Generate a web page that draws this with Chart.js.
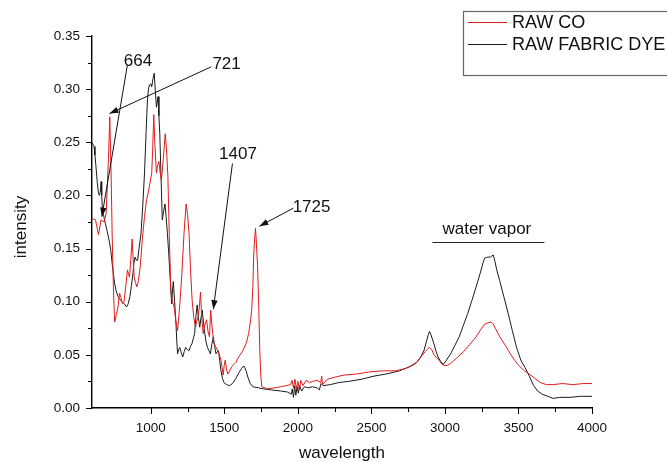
<!DOCTYPE html>
<html>
<head>
<meta charset="utf-8">
<script src="https://cdn.jsdelivr.net/npm/chart.js@4.4.0/dist/chart.umd.min.js"></script>
<style>
  html, body { margin: 0; padding: 0; background: #fff; }
  #wrap { width: 667px; height: 462px; position: relative; }
</style>
</head>
<body>
<div id="wrap"><canvas id="spectrumChart" width="667" height="462"></canvas></div>
<script>
/* ============================================
   Spectrum chart - RAW CO vs RAW FABRIC DYE
   ============================================ */

// RAW CO (red)
const coWavelength = [600, 624, 644, 662, 682, 696, 712, 721, 730, 737, 746, 754, 766, 777, 787, 797, 807, 818, 830, 841, 848, 855, 864, 873, 880, 887, 896, 905, 916, 928, 943, 957, 971, 986, 1006, 1013, 1020, 1027, 1038, 1046, 1055, 1063, 1072, 1085, 1098, 1106, 1116, 1126, 1136, 1147, 1159, 1170, 1182, 1196, 1211, 1226, 1240, 1250, 1260, 1270, 1281, 1292, 1304, 1312, 1321, 1330, 1338, 1346, 1356, 1367, 1379, 1389, 1399, 1407, 1414, 1428, 1440, 1454, 1466, 1477, 1485, 1492, 1499, 1506, 1515, 1524, 1537, 1550, 1565, 1579, 1593, 1607, 1622, 1636, 1651, 1665, 1676, 1686, 1694, 1700, 1706, 1712, 1718, 1726, 1734, 1741, 1748, 1755, 1775, 1795, 1840, 1882, 1920, 1950, 1960, 1970, 1980, 1990, 2000, 2010, 2020, 2035, 2056, 2080, 2100, 2130, 2155, 2162, 2168, 2200, 2250, 2315, 2400, 2489, 2580, 2663, 2730, 2779, 2810, 2837, 2865, 2885, 2895, 2910, 2925, 2938, 2960, 2980, 2996, 3015, 3039, 3080, 3126, 3170, 3212, 3245, 3270, 3290, 3314, 3328, 3343, 3365, 3386, 3415, 3444, 3473, 3502, 3540, 3574, 3610, 3647, 3690, 3734, 3800, 3870, 3940, 4000];
const coIntensity = [0.178, 0.177, 0.163, 0.177, 0.175, 0.183, 0.235, 0.274, 0.220, 0.164, 0.110, 0.081, 0.088, 0.095, 0.108, 0.104, 0.098, 0.100, 0.115, 0.130, 0.126, 0.123, 0.140, 0.159, 0.140, 0.123, 0.118, 0.114, 0.120, 0.133, 0.160, 0.180, 0.196, 0.205, 0.221, 0.245, 0.276, 0.250, 0.221, 0.228, 0.232, 0.222, 0.214, 0.235, 0.258, 0.245, 0.218, 0.160, 0.111, 0.100, 0.095, 0.082, 0.073, 0.095, 0.126, 0.165, 0.192, 0.182, 0.164, 0.130, 0.101, 0.085, 0.076, 0.082, 0.086, 0.095, 0.109, 0.085, 0.070, 0.078, 0.083, 0.072, 0.067, 0.092, 0.080, 0.061, 0.058, 0.054, 0.050, 0.045, 0.038, 0.031, 0.040, 0.045, 0.036, 0.032, 0.035, 0.039, 0.041, 0.043, 0.047, 0.050, 0.053, 0.057, 0.062, 0.070, 0.080, 0.092, 0.115, 0.145, 0.160, 0.169, 0.155, 0.133, 0.095, 0.054, 0.030, 0.020, 0.019, 0.018, 0.019, 0.020, 0.021, 0.022, 0.026, 0.019, 0.027, 0.018, 0.025, 0.017, 0.026, 0.021, 0.026, 0.024, 0.025, 0.026, 0.024, 0.030, 0.022, 0.027, 0.029, 0.031, 0.032, 0.034, 0.035, 0.035, 0.037, 0.040, 0.043, 0.048, 0.053, 0.056, 0.057, 0.055, 0.050, 0.048, 0.045, 0.041, 0.040, 0.040, 0.042, 0.047, 0.053, 0.060, 0.067, 0.074, 0.079, 0.080, 0.081, 0.079, 0.075, 0.069, 0.064, 0.058, 0.051, 0.045, 0.040, 0.035, 0.032, 0.028, 0.024, 0.022, 0.022, 0.023, 0.022, 0.023, 0.023];

// RAW FABRIC DYE (black)
const dyeWavelength = [600, 607, 614, 620, 627, 636, 644, 650, 656, 662, 666, 670, 678, 685, 702, 719, 728, 737, 746, 754, 765, 777, 790, 806, 820, 835, 846, 858, 868, 878, 885, 893, 901, 910, 920, 933, 945, 957, 968, 977, 984, 991, 999, 1006, 1015, 1023, 1030, 1038, 1044, 1049, 1055, 1061, 1070, 1078, 1087, 1096, 1104, 1113, 1122, 1130, 1136, 1142, 1147, 1153, 1162, 1171, 1177, 1182, 1190, 1197, 1207, 1217, 1227, 1237, 1248, 1260, 1270, 1281, 1290, 1298, 1306, 1315, 1324, 1333, 1341, 1350, 1358, 1367, 1376, 1385, 1395, 1405, 1415, 1425, 1434, 1443, 1452, 1460, 1468, 1477, 1487, 1497, 1515, 1535, 1555, 1579, 1598, 1616, 1626, 1636, 1648, 1660, 1676, 1694, 1730, 1766, 1820, 1882, 1930, 1955, 1962, 1970, 1978, 1986, 1995, 2003, 2012, 2025, 2045, 2070, 2100, 2130, 2145, 2158, 2171, 2220, 2280, 2344, 2430, 2518, 2600, 2692, 2760, 2808, 2835, 2857, 2875, 2885, 2895, 2905, 2914, 2924, 2938, 2953, 2970, 2988, 3010, 3039, 3068, 3097, 3126, 3155, 3183, 3212, 3240, 3260, 3270, 3290, 3310, 3328, 3340, 3352, 3372, 3400, 3430, 3458, 3487, 3516, 3545, 3574, 3603, 3630, 3661, 3700, 3734, 3780, 3850, 3920, 4000];
const dyeIntensity = [0.250, 0.248, 0.246, 0.238, 0.227, 0.212, 0.202, 0.200, 0.203, 0.213, 0.200, 0.189, 0.182, 0.177, 0.167, 0.156, 0.148, 0.136, 0.126, 0.117, 0.110, 0.105, 0.102, 0.100, 0.098, 0.095, 0.098, 0.105, 0.115, 0.126, 0.136, 0.142, 0.139, 0.139, 0.150, 0.164, 0.190, 0.221, 0.260, 0.290, 0.300, 0.304, 0.305, 0.302, 0.310, 0.315, 0.300, 0.283, 0.288, 0.293, 0.275, 0.258, 0.215, 0.177, 0.185, 0.192, 0.180, 0.164, 0.145, 0.126, 0.110, 0.098, 0.110, 0.119, 0.100, 0.079, 0.062, 0.051, 0.055, 0.057, 0.052, 0.048, 0.053, 0.057, 0.055, 0.054, 0.058, 0.061, 0.066, 0.070, 0.085, 0.097, 0.085, 0.076, 0.085, 0.092, 0.080, 0.070, 0.062, 0.057, 0.054, 0.051, 0.060, 0.067, 0.058, 0.051, 0.053, 0.054, 0.045, 0.035, 0.028, 0.024, 0.022, 0.021, 0.023, 0.028, 0.033, 0.037, 0.039, 0.039, 0.035, 0.029, 0.023, 0.020, 0.019, 0.018, 0.017, 0.016, 0.015, 0.013, 0.018, 0.010, 0.021, 0.012, 0.020, 0.014, 0.021, 0.016, 0.020, 0.019, 0.020, 0.019, 0.017, 0.023, 0.021, 0.022, 0.024, 0.025, 0.027, 0.030, 0.032, 0.035, 0.039, 0.043, 0.048, 0.054, 0.063, 0.068, 0.072, 0.069, 0.065, 0.061, 0.054, 0.048, 0.044, 0.041, 0.045, 0.051, 0.059, 0.067, 0.078, 0.089, 0.101, 0.114, 0.127, 0.137, 0.141, 0.142, 0.142, 0.144, 0.138, 0.130, 0.120, 0.105, 0.089, 0.073, 0.057, 0.045, 0.038, 0.030, 0.021, 0.016, 0.013, 0.011, 0.009, 0.010, 0.010, 0.011, 0.011];

// Series names
const seriesNames = ['RAW CO', 'RAW FABRIC DYE'];

// Peak labels: text, text position, arrow start, arrow tip (data units)
const peakLabels = ['664', '721', '1407', '1725'];
const peakTextAt = [[913, 0.326], [1515, 0.323], [1593, 0.239], [2093, 0.189]];
const peakArrowFrom = [[841, 0.323], [1411, 0.321], [1555, 0.230], [1969, 0.188]];
const peakArrowTo = [[667, 0.180], [719, 0.277], [1425, 0.093], [1738, 0.171]];

// Water vapor band
const bandLabel = 'water vapor';
const bandTextAt = [3285, 0.168];
const bandRange = [2915, 3676];
const bandLevel = 0.156;

const FONT = '"Liberation Sans", Arial, sans-serif';

function toPoints(xs, ys) {
    return xs.map((x, i) => ({ x: x, y: ys[i] }));
}

function isMultiple(v, step) {
    const r = v / step;
    return Math.abs(r - Math.round(r)) < 1e-6;
}

/**
 * Draws tick marks, axis titles, legend box and peak annotations
 */
const decorPlugin = {
    id: 'decor',
    afterDraw(chart) {
        const ctx = chart.ctx;
        const xs = chart.scales.x;
        const ys = chart.scales.y;
        const area = chart.chartArea;

        ctx.save();
        ctx.strokeStyle = '#000';
        ctx.lineWidth = 1;

        // tick marks (major long, minor short)
        xs.ticks.forEach(t => {
            const px = Math.round(xs.getPixelForValue(t.value)) + 0.5;
            const len = isMultiple(t.value, 500) ? 6 : 4;
            ctx.beginPath();
            ctx.moveTo(px, area.bottom);
            ctx.lineTo(px, area.bottom + len);
            ctx.stroke();
        });
        ys.ticks.forEach(t => {
            const py = Math.round(ys.getPixelForValue(t.value)) + 0.5;
            const len = isMultiple(t.value, 0.05) ? 6 : 4;
            ctx.beginPath();
            ctx.moveTo(area.left, py);
            ctx.lineTo(area.left - len, py);
            ctx.stroke();
        });

        // axis titles
        ctx.fillStyle = '#111';
        ctx.font = '17px ' + FONT;
        ctx.textAlign = 'center';
        ctx.textBaseline = 'middle';
        ctx.fillText('wavelength', (area.left + area.right) / 2, 453);
        ctx.save();
        ctx.translate(21, 227);
        ctx.rotate(-Math.PI / 2);
        ctx.fillText('intensity', 0, 0);
        ctx.restore();

        // legend
        ctx.strokeStyle = '#666';
        ctx.lineWidth = 1.2;
        ctx.strokeRect(463.5, 11.5, 230, 64);
        chart.data.datasets.forEach((ds, i) => {
            const ly = 22 + i * 22;
            ctx.strokeStyle = ds.borderColor;
            ctx.lineWidth = 1;
            ctx.beginPath();
            ctx.moveTo(468, ly + 0.5);
            ctx.lineTo(507, ly + 0.5);
            ctx.stroke();
            ctx.fillStyle = '#111';
            ctx.font = '18px ' + FONT;
            ctx.textAlign = 'left';
            ctx.fillText(ds.label, 512, ly + 1);
        });

        // peak annotations with arrows
        ctx.font = '17px ' + FONT;
        ctx.textAlign = 'center';
        ctx.fillStyle = '#111';
        peakLabels.forEach((lab, i) => {
            ctx.fillText(lab, xs.getPixelForValue(peakTextAt[i][0]), ys.getPixelForValue(peakTextAt[i][1]));
            const x1 = xs.getPixelForValue(peakArrowFrom[i][0]);
            const y1 = ys.getPixelForValue(peakArrowFrom[i][1]);
            const x2 = xs.getPixelForValue(peakArrowTo[i][0]);
            const y2 = ys.getPixelForValue(peakArrowTo[i][1]);
            ctx.strokeStyle = '#111';
            ctx.lineWidth = 1;
            ctx.beginPath();
            ctx.moveTo(x1, y1);
            ctx.lineTo(x2, y2);
            ctx.stroke();
            const a = Math.atan2(y2 - y1, x2 - x1);
            const hl = 9, hw = 3.2;
            ctx.beginPath();
            ctx.moveTo(x2, y2);
            ctx.lineTo(x2 - hl * Math.cos(a) + hw * Math.sin(a), y2 - hl * Math.sin(a) - hw * Math.cos(a));
            ctx.lineTo(x2 - hl * Math.cos(a) - hw * Math.sin(a), y2 - hl * Math.sin(a) + hw * Math.cos(a));
            ctx.closePath();
            ctx.fill();
        });

        // water vapor band
        ctx.fillText(bandLabel, xs.getPixelForValue(bandTextAt[0]), ys.getPixelForValue(bandTextAt[1]));
        const by = Math.round(ys.getPixelForValue(bandLevel)) + 0.5;
        ctx.strokeStyle = '#222';
        ctx.lineWidth = 1.2;
        ctx.beginPath();
        ctx.moveTo(xs.getPixelForValue(bandRange[0]), by);
        ctx.lineTo(xs.getPixelForValue(bandRange[1]), by);
        ctx.stroke();

        ctx.restore();
    }
};

const ctx = document.getElementById('spectrumChart').getContext('2d');

const spectrumChart = new Chart(ctx, {
    type: 'line',
    data: {
        datasets: [
            {
                label: seriesNames[0],
                data: toPoints(coWavelength, coIntensity),
                borderColor: '#e01b1b',
                borderWidth: 1,
                pointRadius: 0,
                tension: 0,
                fill: false
            },
            {
                label: seriesNames[1],
                data: toPoints(dyeWavelength, dyeIntensity),
                borderColor: '#1a1a1a',
                borderWidth: 1,
                pointRadius: 0,
                tension: 0,
                fill: false
            }
        ]
    },
    options: {
        responsive: false,
        animation: false,
        layout: { padding: { left: 0, right: 75, top: 36, bottom: 0 } },
        plugins: {
            legend: { display: false },
            tooltip: { enabled: false }
        },
        scales: {
            x: {
                type: 'linear',
                min: 600,
                max: 4000,
                afterBuildTicks: scale => {
                    scale.ticks = scale.ticks.filter(t => isMultiple(t.value, 250));
                },
                afterFit: scale => { scale.height = 54; },
                grid: { display: false, drawTicks: false },
                border: { display: true, color: '#000', width: 1.4 },
                ticks: {
                    stepSize: 250,
                    autoSkip: false,
                    maxRotation: 0,
                    padding: 12,
                    color: '#111',
                    font: { family: FONT, size: 13.5 },
                    callback: v => isMultiple(v, 500) ? String(v) : ''
                }
            },
            y: {
                min: 0,
                max: 0.35,
                afterFit: scale => { scale.width = 92; },
                grid: { display: false, drawTicks: false },
                border: { display: true, color: '#000', width: 1.4 },
                ticks: {
                    stepSize: 0.025,
                    autoSkip: false,
                    padding: 12,
                    color: '#111',
                    font: { family: FONT, size: 13.5 },
                    callback: v => isMultiple(v, 0.05) ? v.toFixed(2) : ''
                }
            }
        }
    },
    plugins: [decorPlugin]
});
</script>
</body>
</html>
